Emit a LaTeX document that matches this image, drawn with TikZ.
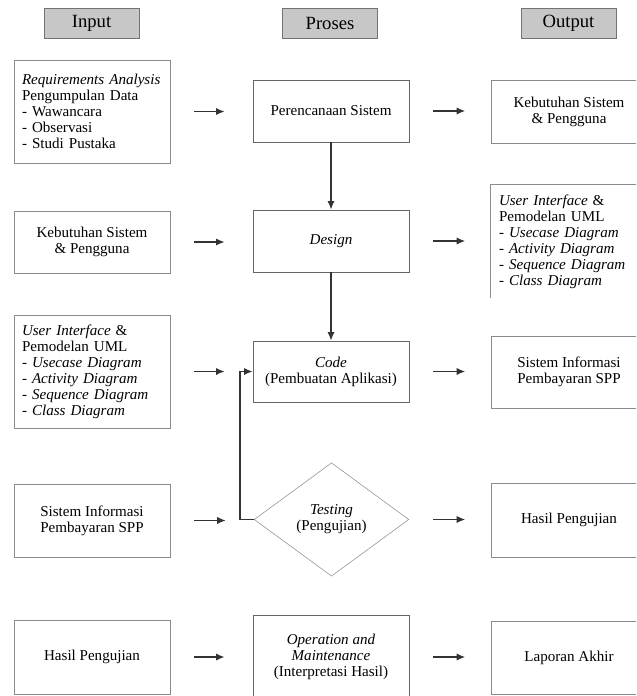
\documentclass[tikz,border=0pt]{standalone}
\usepackage{fontspec}
\setmainfont{Liberation Serif}
\usetikzlibrary{arrows.meta,shapes.geometric}

\begin{document}
\begin{tikzpicture}[
    x=0.75pt, y=-0.75pt,
    header/.style={
        rectangle,
        minimum width=71pt,
        minimum height=22.5pt,
        draw=black!55,
        fill=black!22,
        font=\fontsize{14}{16}\selectfont
    },
    inbox/.style={
        rectangle,
        minimum width=117pt,
        draw=black!45,
        align=center,
        font=\fontsize{11.3}{12}\selectfont
    },
    outbox/.style={inbox},
    probox/.style={
        rectangle,
        minimum width=117pt,
        minimum height=46.5pt,
        draw=black!60,
        align=center,
        font=\fontsize{11.3}{12}\selectfont
    },
    decision/.style={
        diamond,
        minimum width=116pt,
        minimum height=85pt,
        inner sep=0pt,
        draw=black!45,
        align=center,
        font=\fontsize{11.3}{12}\selectfont
    },
    lst/.style={align=left, text width=105pt},
    arrow/.style={-{Latex[length=6.5pt, width=5.5pt]}, line width=1.3pt, black!80}
]

% --- Lienzo ---
\useasboundingbox (0,0) rectangle (636,696);
\clip (0,0) rectangle (636,696);

% --- Encabezados ---
\node[header] (hin)  at (91.5,23)  {Input};
\node[header] (hpro) at (330,23)   {Proses};
\node[header] (hout) at (568.5,23) {Output};

% --- Fila 1 ---
\node[inbox, lst, minimum height=77.25pt] (in1) at (92,111.5)
    {\textit{Requirements Analysis}\\Pengumpulan Data\\- Wawancara\\- Observasi\\- Studi Pustaka};
\node[probox] (plan) at (331,111) {Perencanaan Sistem};
\node[outbox, minimum height=47.25pt] (out1) at (569,111.5) {Kebutuhan Sistem\\\& Pengguna};

% --- Fila 2 ---
\node[inbox, minimum height=46.5pt] (in2) at (92,242) {Kebutuhan Sistem\\\& Pengguna};
\node[probox] (design) at (331,241) {\textit{Design}};
\node[outbox, lst, draw=none, minimum height=84.75pt] (out2) at (569,241.5)
    {\textit{User Interface} \&\\Pemodelan UML\\\textit{- Usecase Diagram}\\\textit{- Activity Diagram}\\\textit{- Sequence Diagram}\\\textit{- Class Diagram}};
\draw[black!45] (out2.south west) -- (out2.north west) -- (out2.north east);

% --- Fila 3 ---
\node[inbox, lst, minimum height=84.75pt] (in3) at (92,371.5)
    {\textit{User Interface} \&\\Pemodelan UML\\\textit{- Usecase Diagram}\\\textit{- Activity Diagram}\\\textit{- Sequence Diagram}\\\textit{- Class Diagram}};
\node[probox, minimum height=45.75pt] (code) at (331,371.5) {\textit{Code}\\(Pembuatan Aplikasi)};
\node[outbox, minimum height=54pt] (out3) at (569,372) {Sistem Informasi\\Pembayaran SPP};

% --- Fila 4 ---
\node[inbox, minimum height=54.75pt] (in4) at (92,520.5) {Sistem Informasi\\Pembayaran SPP};
\node[decision] (test) at (331.5,519.5) {\textit{Testing}\\(Pengujian)};
\node[outbox, minimum height=55.5pt] (out4) at (569,520) {Hasil Pengujian};

% --- Fila 5 ---
\node[inbox, minimum height=55.5pt] (in5) at (92,657) {Hasil Pengujian};
\node[probox, minimum height=63pt] (ops) at (331,657)
    {\textit{Operation and}\\\textit{Maintenance}\\(Interpretasi Hasil)};
\node[outbox, minimum height=54.75pt] (out5) at (569,657.5) {Laporan Akhir};

% --- Flechas entrada -> proses -> salida ---
\foreach \a/\b in {in1/plan, in2/design, in3/code, in4/test, in5/ops}
    \draw[arrow, shorten <=18pt, shorten >=21pt] (\a.east) -- (\a.east -| \b.west);
\foreach \a/\b in {plan/out1, design/out2, code/out3, test/out4, ops/out5}
    \draw[arrow, shorten <=18pt, shorten >=19pt] (\a.east) -- (\a.east -| \b.west);

% --- Flujo vertical y retorno ---
\draw[arrow] (plan.south) -- (design.north);
\draw[arrow] (design.south) -- (code.north);
\draw[arrow] (test.west) -- ++(-14,0) |- (code.west);

\end{tikzpicture}
\end{document}
